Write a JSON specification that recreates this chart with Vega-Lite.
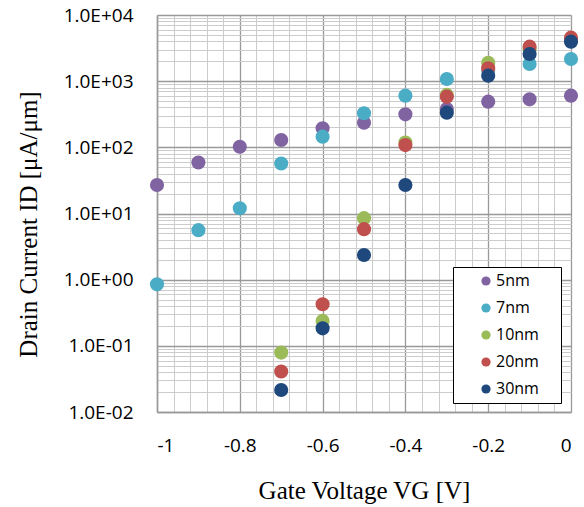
{
  "$schema": "https://vega.github.io/schema/vega-lite/v6.json",
  "width": 414,
  "height": 397,
  "autosize": {"type": "none"},
  "padding": {"left": 157, "top": 15, "right": 13, "bottom": 95},
  "background": "white",
  "config": {
    "view": {"stroke": null},
    "axis": {"ticks": false, "labelOverlap": false, "labelBound": false}
  },
  "data": {
    "values": [
      {"series": "5nm", "vg": -1.0, "id": 27},
      {"series": "5nm", "vg": -0.9, "id": 59},
      {"series": "5nm", "vg": -0.8, "id": 102},
      {"series": "5nm", "vg": -0.7, "id": 129},
      {"series": "5nm", "vg": -0.6, "id": 194},
      {"series": "5nm", "vg": -0.5, "id": 236},
      {"series": "5nm", "vg": -0.4, "id": 315},
      {"series": "5nm", "vg": -0.3, "id": 380},
      {"series": "5nm", "vg": -0.2, "id": 490},
      {"series": "5nm", "vg": -0.1, "id": 532},
      {"series": "5nm", "vg": 0.0, "id": 604},
      {"series": "7nm", "vg": -1.0, "id": 0.85},
      {"series": "7nm", "vg": -0.9, "id": 5.6},
      {"series": "7nm", "vg": -0.8, "id": 12},
      {"series": "7nm", "vg": -0.7, "id": 57},
      {"series": "7nm", "vg": -0.6, "id": 145},
      {"series": "7nm", "vg": -0.5, "id": 327},
      {"series": "7nm", "vg": -0.4, "id": 604},
      {"series": "7nm", "vg": -0.3, "id": 1078},
      {"series": "7nm", "vg": -0.2, "id": 1480},
      {"series": "7nm", "vg": -0.1, "id": 1818},
      {"series": "7nm", "vg": 0.0, "id": 2163},
      {"series": "10nm", "vg": -0.7, "id": 0.079},
      {"series": "10nm", "vg": -0.6, "id": 0.238},
      {"series": "10nm", "vg": -0.5, "id": 8.5},
      {"series": "10nm", "vg": -0.4, "id": 118},
      {"series": "10nm", "vg": -0.3, "id": 620},
      {"series": "10nm", "vg": -0.2, "id": 1901},
      {"series": "10nm", "vg": -0.1, "id": 3000},
      {"series": "10nm", "vg": 0.0, "id": 4200},
      {"series": "20nm", "vg": -0.7, "id": 0.041},
      {"series": "20nm", "vg": -0.6, "id": 0.425},
      {"series": "20nm", "vg": -0.5, "id": 5.8},
      {"series": "20nm", "vg": -0.4, "id": 108},
      {"series": "20nm", "vg": -0.3, "id": 583},
      {"series": "20nm", "vg": -0.2, "id": 1565},
      {"series": "20nm", "vg": -0.1, "id": 3319},
      {"series": "20nm", "vg": 0.0, "id": 4540},
      {"series": "30nm", "vg": -0.7, "id": 0.0215},
      {"series": "30nm", "vg": -0.6, "id": 0.184},
      {"series": "30nm", "vg": -0.5, "id": 2.36},
      {"series": "30nm", "vg": -0.4, "id": 27},
      {"series": "30nm", "vg": -0.3, "id": 334},
      {"series": "30nm", "vg": -0.2, "id": 1210},
      {"series": "30nm", "vg": -0.1, "id": 2574},
      {"series": "30nm", "vg": 0.0, "id": 3950}
    ]
  },
  "mark": {"type": "point", "filled": true, "opacity": 1, "size": 200, "shape": "circle"},
  "encoding": {
    "x": {
      "field": "vg",
      "type": "quantitative",
      "scale": {"domain": [-1, 0], "nice": false, "zero": false},
      "axis": {
        "title": "Gate Voltage VG [V]",
        "titleFont": "Liberation Serif",
        "titleFontSize": 25,
        "titleFontWeight": "normal",
        "titleColor": "#000000",
        "titleBaseline": "alphabetic",
        "titleX": 207,
        "titleY": 86,
        "values": [-1, -0.96, -0.92, -0.88, -0.84, -0.8, -0.76, -0.72, -0.68, -0.64, -0.6, -0.56, -0.52, -0.48, -0.44, -0.4, -0.36, -0.32, -0.28, -0.24, -0.2, -0.16, -0.12, -0.08, -0.04, 0],
        "labelExpr": "abs(datum.value*5 - round(datum.value*5)) < 1e-6 ? toString(round(datum.value*10)/10) : ''",
        "labelFont": "Open Sans",
        "labelFontSize": 19,
        "labelColor": "#000000",
        "labelPadding": 24,
        "domainColor": "#999999",
        "domainWidth": 1.5,
        "grid": true,
        "gridColor": {"condition": {"test": "abs(datum.value*5 - round(datum.value*5)) < 1e-6", "value": "#999999"}, "value": "#cccccc"},
        "gridWidth": {"condition": {"test": "abs(datum.value*5 - round(datum.value*5)) < 1e-6", "value": 1.3}, "value": 1}
      }
    },
    "y": {
      "field": "id",
      "type": "quantitative",
      "scale": {"type": "log", "domain": [0.01, 10000], "nice": false},
      "axis": {
        "title": "Drain Current ID [μA/μm]",
        "titleFont": "Liberation Serif",
        "titleFontSize": 25,
        "titleFontWeight": "normal",
        "titleColor": "#000000",
        "titleBaseline": "alphabetic",
        "titleX": -121,
        "titleY": 209,
        "values": [0.01, 0.02, 0.03, 0.04, 0.05, 0.06, 0.07, 0.08, 0.09, 0.1, 0.2, 0.3, 0.4, 0.5, 0.6, 0.7, 0.8, 0.9, 1, 2, 3, 4, 5, 6, 7, 8, 9, 10, 20, 30, 40, 50, 60, 70, 80, 90, 100, 200, 300, 400, 500, 600, 700, 800, 900, 1000, 2000, 3000, 4000, 5000, 6000, 7000, 8000, 9000, 10000],
        "labelExpr": "abs(log(datum.value)/LN10 - round(log(datum.value)/LN10)) < 1e-6 ? '1.0E' + (round(log(datum.value)/LN10) < 0 ? '-' : '+') + '0' + abs(round(log(datum.value)/LN10)) : ''",
        "labelFont": "Open Sans",
        "labelFontSize": 19,
        "labelColor": "#000000",
        "labelPadding": 24,
        "domainColor": "#999999",
        "domainWidth": 1.5,
        "grid": true,
        "gridColor": {"condition": {"test": "abs(log(datum.value)/LN10 - round(log(datum.value)/LN10)) < 1e-6", "value": "#999999"}, "value": "#cccccc"},
        "gridWidth": {"condition": {"test": "abs(log(datum.value)/LN10 - round(log(datum.value)/LN10)) < 1e-6", "value": 1.3}, "value": 1}
      }
    },
    "color": {
      "field": "series",
      "type": "nominal",
      "scale": {"domain": ["5nm", "7nm", "10nm", "20nm", "30nm"], "range": ["#8064A2", "#4BACC6", "#9BBB59", "#C0504D", "#1F497D"]},
      "legend": {
        "title": null,
        "orient": "none",
        "legendX": 296,
        "legendY": 252,
        "strokeColor": "#000000",
        "fillColor": "#ffffff",
        "padding": 6,
        "rowPadding": 11,
        "symbolType": "circle",
        "symbolSize": 85,
        "symbolOffset": 19,
        "labelOffset": 2,
        "labelFont": "Open Sans",
        "labelFontSize": 16,
        "labelColor": "#000000",
        "labelExpr": "datum.label + '\u2005\u2800'"
      }
    }
  }
}
